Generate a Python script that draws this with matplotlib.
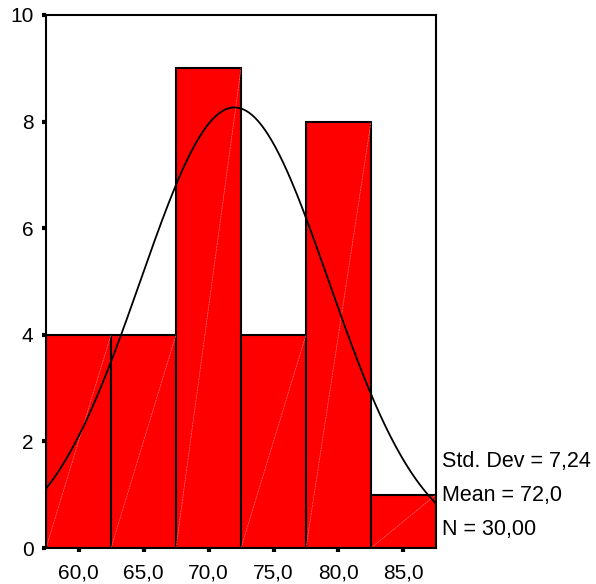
import numpy as np
import matplotlib
matplotlib.use("Agg")
import matplotlib.pyplot as plt

plt.rcParams['font.family'] = ['Liberation Sans', 'DejaVu Sans']

# histogram bins and counts
bin_edges = [57.5, 62.5, 67.5, 72.5, 77.5, 82.5, 87.5]
counts = [4, 4, 9, 4, 8, 1]
xticks = [60, 65, 70, 75, 80, 85]
xticklabels = ["60,0", "65,0", "70,0", "75,0", "80,0", "85,0"]
yticks = [0, 2, 4, 6, 8, 10]

std_dev = 7.24
mean = 72.0
n = 30
stats_text = ["Std. Dev = 7,24", "Mean = 72,0", "N = 30,00"]

fig = plt.figure(figsize=(5.96, 5.84), dpi=100)
fig.set_facecolor('w')
ax = fig.add_axes([46/596, 36/584, 390/596, 533/584])

lefts = np.array(bin_edges[:-1])
widths = np.diff(bin_edges)
ax.bar(lefts, counts, width=widths, align='edge', color='#ff0000',
       edgecolor='black', linewidth=1.5, zorder=2)

# faint diagonal streaks inside the bars
for l, w, c in zip(lefts, widths, counts):
    ax.plot([l, l + w], [0, c], color='#ff7070', linewidth=0.5,
            linestyle=(0, (3, 1)), zorder=3)

# fitted normal curve
xs = np.linspace(bin_edges[0], bin_edges[-1], 300)
bw = widths[0]
ys = n * bw / (std_dev * np.sqrt(2 * np.pi)) * np.exp(-0.5 * ((xs - mean) / std_dev) ** 2)
ax.plot(xs, ys, color='black', linewidth=1.3, zorder=4)

ax.set_xlim(bin_edges[0], bin_edges[-1])
ax.set_ylim(0, 10)
ax.set_xticks(xticks)
ax.set_xticklabels(xticklabels)
ax.set_yticks(yticks)
ax.tick_params(axis='both', length=3, width=3, labelsize=15, direction='out')
ax.tick_params(axis='x', pad=8)
ax.tick_params(axis='y', pad=6)
for s in ax.spines.values():
    s.set_linewidth(1.5)
    s.set_zorder(5)

for i, t in enumerate(stats_text):
    fig.text(442/596, 1 - (461 + i * 34.5) / 584, t, fontsize=15.5,
             va='center', ha='left')

fig.savefig("out.png", dpi=100)
